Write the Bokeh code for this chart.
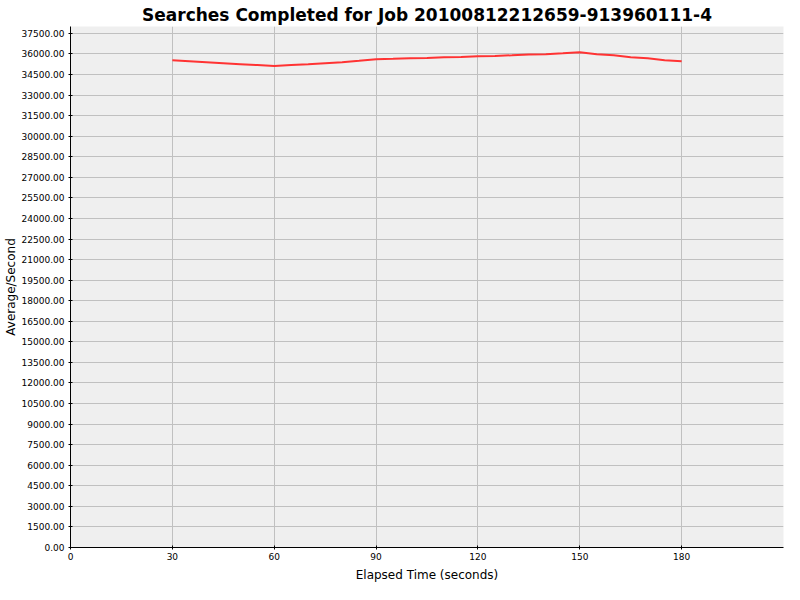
from bokeh.plotting import figure
from bokeh.models import FixedTicker, NumeralTickFormatter, Range1d
from bokeh.embed import file_html
from bokeh.resources import INLINE

# Data
elapsed_seconds = [30, 35, 40, 45, 50, 55, 60, 65, 70, 75, 80, 85, 90, 95, 100,
                   105, 110, 115, 120, 125, 130, 135, 140, 145, 150, 155, 160,
                   165, 170, 175, 180]
searches_per_second = [35543, 35471, 35399, 35327, 35255, 35184, 35112, 35184,
                       35255, 35327, 35399, 35500, 35614, 35640, 35686, 35700,
                       35758, 35770, 35830, 35850, 35902, 35960, 35985, 36046,
                       36118, 35974, 35902, 35758, 35686, 35543, 35471]
x_ticks = [0, 30, 60, 90, 120, 150, 180]
y_ticks = [i * 1500 for i in range(26)]

title_text = "Searches Completed for Job 20100812212659-913960111-4"

p = figure(width=784, height=584, output_backend="svg", toolbar_location=None,
           x_range=Range1d(0, 210), y_range=Range1d(0, 38000),
           title=title_text,
           min_border_left=70, min_border_right=1, min_border_top=24,
           min_border_bottom=36)

p.background_fill_color = "#EFEFEF"
p.border_fill_color = "white"
p.outline_line_color = None

p.title.text_font = "DejaVu Sans"
p.title.text_font_style = "bold"
p.title.text_font_size = "17px"
p.title.text_color = "black"
p.title.align = "center"
p.title.standoff = 4
p.title.offset = 0

p.line(elapsed_seconds, searches_per_second, line_color="#FF3333", line_width=2)

for ax in (p.xaxis[0], p.yaxis[0]):
    ax.axis_line_color = "black"
    ax.axis_line_width = 1
    ax.major_tick_in = 2
    ax.major_tick_out = 2
    ax.major_tick_line_color = "black"
    ax.minor_tick_in = 0
    ax.minor_tick_out = 0
    ax.major_label_text_font = "DejaVu Sans"
    ax.major_label_text_font_size = "9px"
    ax.major_label_text_color = "black"
    ax.axis_label_text_font = "DejaVu Sans"
    ax.axis_label_text_font_size = "12px"
    ax.axis_label_text_font_style = "normal"
    ax.axis_label_text_color = "black"

p.xaxis.ticker = FixedTicker(ticks=x_ticks)
p.yaxis.ticker = FixedTicker(ticks=y_ticks)
p.yaxis.formatter = NumeralTickFormatter(format="0.00")
p.xaxis.axis_label = "Elapsed Time (seconds)"
p.yaxis.axis_label = "Average/Second"
p.xaxis.major_label_standoff = 3
p.xaxis.axis_label_standoff = 5
p.yaxis.major_label_standoff = 4
p.yaxis.axis_label_standoff = 1

p.xgrid.grid_line_color = "#C0C0C0"
p.ygrid.grid_line_color = "#C0C0C0"
p.xgrid.grid_line_width = 1
p.ygrid.grid_line_width = 1

open("out.html", "w").write(file_html(p, INLINE))
